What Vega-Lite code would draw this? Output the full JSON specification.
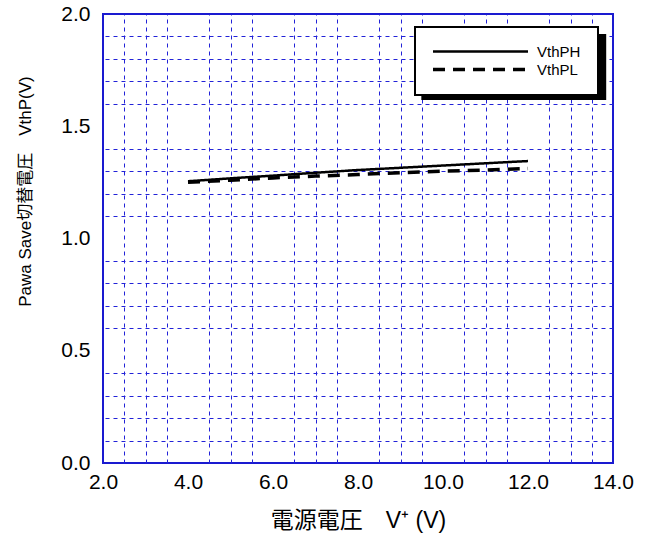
{
  "$schema": "https://vega.github.io/schema/vega-lite/v6.json",
  "width": 510,
  "height": 449,
  "autosize": {"type": "none"},
  "padding": {"left": 103, "top": 14, "right": 42, "bottom": 78},
  "background": "white",
  "config": {
    "view": {"stroke": "#1a1ad0", "strokeWidth": 2},
    "font": "Liberation Sans, Noto Sans CJK JP",
    "axis": {
      "labelFont": "Liberation Sans",
      "labelFontSize": 21,
      "labelColor": "black",
      "labelFlush": false,
      "labelOverlap": false,
      "ticks": false,
      "domain": false,
      "grid": true,
      "gridColor": "#2222d8",
      "gridOpacity": 1,
      "gridWidth": 1,
      "titleFont": "Liberation Sans, Noto Sans CJK JP",
      "titleFontWeight": "normal",
      "titleColor": "black"
    },
    "legend": {
      "orient": "none",
      "legendX": 312,
      "legendY": 13,
      "fillColor": "white",
      "strokeColor": "black",
      "strokeWidth": 2,
      "padding": 17,
      "rowPadding": 2,
      "symbolType": "M-1.3,0H17.7",
      "symbolSize": 100,
      "symbolStrokeColor": "black",
      "labelFont": "Liberation Sans",
      "labelFontSize": 15,
      "labelColor": "black",
      "labelOffset": 90
    }
  },
  "datasets": {
    "curves": [
      {"v": 4, "vth": 1.255, "series": "VthPH"},
      {"v": 5, "vth": 1.268, "series": "VthPH"},
      {"v": 6, "vth": 1.28, "series": "VthPH"},
      {"v": 7, "vth": 1.293, "series": "VthPH"},
      {"v": 8, "vth": 1.305, "series": "VthPH"},
      {"v": 9, "vth": 1.315, "series": "VthPH"},
      {"v": 10, "vth": 1.325, "series": "VthPH"},
      {"v": 11, "vth": 1.335, "series": "VthPH"},
      {"v": 12, "vth": 1.345, "series": "VthPH"},
      {"v": 4, "vth": 1.25, "series": "VthPL"},
      {"v": 5, "vth": 1.26, "series": "VthPL"},
      {"v": 6, "vth": 1.27, "series": "VthPL"},
      {"v": 7, "vth": 1.278, "series": "VthPL"},
      {"v": 8, "vth": 1.285, "series": "VthPL"},
      {"v": 9, "vth": 1.293, "series": "VthPL"},
      {"v": 10, "vth": 1.3, "series": "VthPL"},
      {"v": 11, "vth": 1.305, "series": "VthPL"},
      {"v": 12, "vth": 1.312, "series": "VthPL"}
    ]
  },
  "resolve": {"axis": {"x": "independent", "y": "independent"}},
  "layer": [
    {
      "data": {"values": [{}]},
      "mark": {"type": "rect", "color": "black", "opacity": 1},
      "encoding": {
        "x": {
          "datum": 9.49,
          "type": "quantitative",
          "scale": {"domain": [2, 14], "nice": false, "zero": false},
          "axis": {
            "orient": "top",
            "title": null,
            "labels": false,
            "values": [2.5, 3, 3.5, 4.5, 5, 5.5, 6.5, 7, 7.5, 8.5, 9, 9.5, 10.5, 11, 11.5, 12.5, 13, 13.5],
            "gridDash": [4, 4]
          }
        },
        "x2": {"datum": 13.84},
        "y": {
          "datum": 1.911,
          "type": "quantitative",
          "scale": {"domain": [0, 2], "nice": false, "zero": false},
          "axis": {
            "orient": "right",
            "title": null,
            "labels": false,
            "values": [0.1, 0.2, 0.3, 0.4, 0.6, 0.7, 0.8, 0.9, 1.1, 1.2, 1.3, 1.4, 1.6, 1.7, 1.8, 1.9],
            "gridDash": [4, 4]
          }
        },
        "y2": {"datum": 1.617}
      }
    },
    {
      "data": {"name": "curves"},
      "mark": {"type": "line", "color": "black"},
      "encoding": {
        "x": {
          "field": "v",
          "type": "quantitative",
          "axis": {
            "orient": "bottom",
            "title": "電源電圧　V⁺  (V)",
            "titleFontSize": 23,
            "titlePadding": 17,
            "values": [2, 4, 6, 8, 10, 12, 14],
            "format": ".1f",
            "labelPadding": 8
          }
        },
        "y": {
          "field": "vth",
          "type": "quantitative",
          "axis": {
            "orient": "left",
            "title": "Pawa Save切替電圧　VthP(V)",
            "titleFontSize": 17,
            "titleBaseline": "middle",
            "titleX": -78,
            "titleY": 177,
            "values": [0, 0.5, 1, 1.5, 2],
            "format": ".1f",
            "labelPadding": 13
          }
        },
        "strokeDash": {
          "field": "series",
          "type": "nominal",
          "scale": {"domain": ["VthPH", "VthPL"], "range": [[1, 0], [12, 8]]},
          "legend": {"title": null}
        },
        "strokeWidth": {
          "field": "series",
          "type": "nominal",
          "scale": {"domain": ["VthPH", "VthPL"], "range": [2.5, 3.5]},
          "legend": {"title": null}
        }
      }
    }
  ]
}
